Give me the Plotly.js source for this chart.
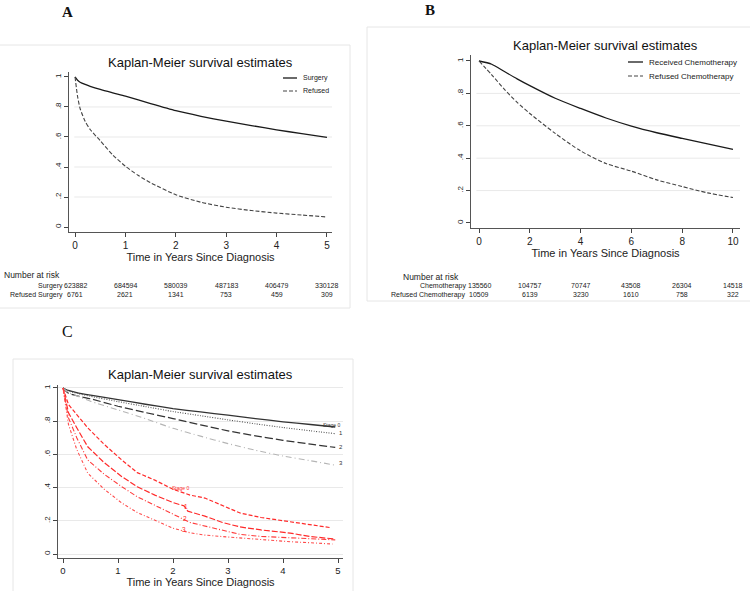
<!DOCTYPE html>
<html>
<head>
<meta charset="utf-8">
<script src="https://cdn.plot.ly/plotly-3.0.1.min.js"></script>
<style>html,body{margin:0;padding:0;background:#fff;}#chart{width:750px;height:591px;}</style>
</head>
<body>
<div id="chart"></div>
<script>
// ---------- Panel A data ----------
const tA_surgery = [0, 0.05, 0.1, 0.2, 0.3, 0.5, 0.75, 1, 1.5, 2, 2.5, 3, 3.5, 4, 4.5, 5];
const sA_surgery = [1, 0.978, 0.965, 0.95, 0.938, 0.917, 0.894, 0.872, 0.822, 0.775, 0.738, 0.705, 0.676, 0.648, 0.622, 0.597];
const tA_refused = [0, 0.05, 0.1, 0.2, 0.3, 0.5, 0.75, 1, 1.25, 1.5, 2, 2.5, 3, 3.5, 4, 4.5, 5];
const sA_refused = [1, 0.87, 0.79, 0.705, 0.65, 0.575, 0.48, 0.405, 0.345, 0.295, 0.215, 0.165, 0.132, 0.11, 0.093, 0.08, 0.067];
const riskTimesA = [0, 1, 2, 3, 4, 5];
const riskA_surgery = [623882, 684594, 580039, 487183, 406479, 330128];
const riskA_refused = [6761, 2621, 1341, 753, 459, 309];
const legendA = ['Surgery', 'Refused'];
const riskLabelsA = ['Surgery', 'Refused Surgery'];

// ---------- Panel B data ----------
const tB = [0, 0.5, 1, 1.5, 2, 3, 4, 5, 6, 7, 8, 9, 10];
const sB_chemo = [1, 0.98, 0.935, 0.89, 0.848, 0.77, 0.707, 0.648, 0.598, 0.557, 0.522, 0.488, 0.454];
const sB_refused = [1, 0.915, 0.825, 0.745, 0.676, 0.553, 0.445, 0.367, 0.32, 0.266, 0.225, 0.186, 0.157];
const riskTimesB = [0, 2, 4, 6, 8, 10];
const riskB_chemo = [135560, 104757, 70747, 43508, 26304, 14518];
const riskB_refused = [10509, 6139, 3230, 1610, 758, 322];
const legendB = ['Received Chemotherapy', 'Refused Chemotherapy'];
const riskLabelsB = ['Chemotherapy', 'Refused Chemotherapy'];

// ---------- Panel C data ----------
const tC_surg = [0, 0.1, 0.25, 0.5, 1, 1.5, 2, 2.5, 3, 3.5, 4, 4.5, 4.95];
const sC_surg0 = [1, 0.985, 0.972, 0.957, 0.93, 0.902, 0.876, 0.856, 0.836, 0.816, 0.796, 0.78, 0.765];
const sC_surg1 = [1, 0.982, 0.968, 0.95, 0.918, 0.888, 0.858, 0.833, 0.808, 0.784, 0.762, 0.742, 0.725];
const sC_surg2 = [1, 0.968, 0.953, 0.935, 0.89, 0.852, 0.816, 0.778, 0.742, 0.712, 0.685, 0.662, 0.642];
const sC_surg3 = [1, 0.972, 0.953, 0.92, 0.868, 0.815, 0.757, 0.71, 0.665, 0.625, 0.59, 0.562, 0.535];

const tC_ref0 = [0, 0.1, 0.25, 0.45, 0.75, 1.07, 1.35, 1.67, 2.0, 2.31, 2.58, 2.9, 3.22, 3.6, 4.13, 4.5, 4.88];
const sC_ref0 = [1, 0.9, 0.84, 0.76, 0.66, 0.566, 0.49, 0.445, 0.39, 0.355, 0.337, 0.29, 0.247, 0.22, 0.195, 0.175, 0.158];
const tC_ref1 = [0, 0.1, 0.25, 0.45, 0.75, 1.07, 1.35, 1.67, 2.0, 2.2, 2.27, 2.58, 2.9, 3.22, 3.6, 4.13, 4.5, 4.95];
const sC_ref1 = [1, 0.85, 0.76, 0.646, 0.55, 0.466, 0.405, 0.355, 0.31, 0.29, 0.258, 0.228, 0.19, 0.163, 0.145, 0.126, 0.105, 0.09];
const tC_ref2 = [0, 0.1, 0.25, 0.45, 0.75, 1.07, 1.35, 1.67, 2.0, 2.31, 2.58, 2.9, 3.22, 3.6, 4.13, 4.5, 4.95];
const sC_ref2 = [1, 0.82, 0.7, 0.566, 0.48, 0.405, 0.345, 0.295, 0.24, 0.19, 0.168, 0.14, 0.118, 0.106, 0.096, 0.09, 0.085];
const tC_ref3 = [0, 0.1, 0.25, 0.45, 0.75, 1.07, 1.35, 1.67, 2.0, 2.31, 2.58, 2.9, 3.22, 3.6, 4.13, 4.5, 4.9];
const sC_ref3 = [1, 0.78, 0.63, 0.487, 0.39, 0.307, 0.25, 0.205, 0.155, 0.128, 0.114, 0.105, 0.096, 0.088, 0.074, 0.068, 0.06];

const yTickVals = [0, 0.2, 0.4, 0.6, 0.8, 1];
const yTickText = ['0', '.2', '.4', '.6', '.8', '1'];
const xTicksA = [0, 1, 2, 3, 4, 5];
const xTicksB = [0, 2, 4, 6, 8, 10];
const xTicksC = [0, 1, 2, 3, 4, 5];
const gridVals = [0.2, 0.4, 0.6, 0.8];

const W = 750, H = 591;
const px = v => v / W;
const py = v => 1 - v / H;

const FONT = 'Liberation Sans, Arial, Helvetica, sans-serif';
const NARROW = 'Liberation Sans Narrow, Arial Narrow, Liberation Sans, Arial, sans-serif';
const SERIF = 'Liberation Serif, Times New Roman, serif';

const SOLID_A = {color: '#1a1a1a', width: 1.3};
const DASH_A = {color: '#444', width: 1.1, dash: '4px,2px'};

const traces = [
  {x: tA_surgery, y: sA_surgery, xaxis: 'x', yaxis: 'y', mode: 'lines', name: legendA[0], showlegend: false,
   line: Object.assign({shape: 'spline', smoothing: 0.6}, SOLID_A)},
  {x: tA_refused, y: sA_refused, xaxis: 'x', yaxis: 'y', mode: 'lines', name: legendA[1], showlegend: false,
   line: Object.assign({shape: 'spline', smoothing: 0.6}, DASH_A)},
  {x: tB, y: sB_chemo, xaxis: 'x2', yaxis: 'y2', mode: 'lines', name: legendB[0], showlegend: false,
   line: Object.assign({shape: 'spline', smoothing: 0.7}, SOLID_A)},
  {x: tB, y: sB_refused, xaxis: 'x2', yaxis: 'y2', mode: 'lines', name: legendB[1], showlegend: false,
   line: Object.assign({shape: 'spline', smoothing: 0.7}, DASH_A)},
  {x: tC_surg, y: sC_surg0, xaxis: 'x3', yaxis: 'y3', mode: 'lines', showlegend: false,
   line: {color: '#333', width: 1.3, shape: 'spline', smoothing: 0.5}},
  {x: tC_surg, y: sC_surg1, xaxis: 'x3', yaxis: 'y3', mode: 'lines', showlegend: false,
   line: {color: '#555', width: 1.1, dash: '1px,1.5px', shape: 'spline', smoothing: 0.5}},
  {x: tC_surg, y: sC_surg2, xaxis: 'x3', yaxis: 'y3', mode: 'lines', showlegend: false,
   line: {color: '#333', width: 1.2, dash: '8px,3px', shape: 'spline', smoothing: 0.5}},
  {x: tC_surg, y: sC_surg3, xaxis: 'x3', yaxis: 'y3', mode: 'lines', showlegend: false,
   line: {color: '#b5b5b5', width: 1.1, dash: '6px,3px,1px,3px', shape: 'spline', smoothing: 0.5}},
  {x: tC_ref0, y: sC_ref0, xaxis: 'x3', yaxis: 'y3', mode: 'lines', showlegend: false,
   line: {color: '#ff2a2a', width: 1.2, dash: '4px,2px'}},
  {x: tC_ref1, y: sC_ref1, xaxis: 'x3', yaxis: 'y3', mode: 'lines', showlegend: false,
   line: {color: '#ff2a2a', width: 1.2, dash: '6px,2px'}},
  {x: tC_ref2, y: sC_ref2, xaxis: 'x3', yaxis: 'y3', mode: 'lines', showlegend: false,
   line: {color: '#ff3b3b', width: 1.1, dash: '5px,2px,1px,2px'}},
  {x: tC_ref3, y: sC_ref3, xaxis: 'x3', yaxis: 'y3', mode: 'lines', showlegend: false,
   line: {color: '#ff4a4a', width: 1.1, dash: '1px,2px,3px,2px'}}
];

function xAxis(domain, range, ticks, anchor, tfs, standoff) {
  return {
    domain: domain, range: range, anchor: anchor, tickvals: ticks, ticks: 'outside', ticklen: 4,
    tickcolor: '#444', showline: true, linecolor: '#555', linewidth: 1, showgrid: false, zeroline: false,
    tickfont: {size: tfs, family: FONT, color: '#222'}, fixedrange: true,
    title: {text: 'Time in Years Since Diagnosis', font: {size: 11, family: FONT, color: '#222'}, standoff: standoff}
  };
}
function yAxis(domain, range, anchor, grid) {
  return {
    domain: domain, range: range, anchor: anchor, tickvals: yTickVals, ticktext: yTickText, tickangle: -90,
    ticks: 'outside', ticklen: 4, tickcolor: '#444', showline: true, linecolor: '#555', linewidth: 1,
    showgrid: grid, gridcolor: '#e9e9e9', zeroline: false, fixedrange: true,
    tickfont: {size: 8, family: FONT, color: '#222'}
  };
}

const shapes = [
  // graph region frames
  {type: 'rect', xref: 'paper', yref: 'paper', x0: px(-4), x1: px(350), y0: py(308), y1: py(45), line: {color: '#e6e6e6', width: 1}},
  {type: 'rect', xref: 'paper', yref: 'paper', x0: px(367), x1: px(760), y0: py(301), y1: py(27), line: {color: '#e6e6e6', width: 1}},
  {type: 'rect', xref: 'paper', yref: 'paper', x0: px(13), x1: px(353), y0: py(600), y1: py(359), line: {color: '#e6e6e6', width: 1}}
];
gridVals.forEach(v => {
  shapes.push({type: 'line', xref: 'x domain', yref: 'y', x0: 0.02, x1: 1, y0: v, y1: v, layer: 'below', line: {color: '#e9e9e9', width: 1}});
  shapes.push({type: 'line', xref: 'x2 domain', yref: 'y2', x0: 0.02, x1: 1, y0: v, y1: v, layer: 'below', line: {color: '#e9e9e9', width: 1}});
});

const annotations = [];
function ann(o) { annotations.push(Object.assign({showarrow: false, xref: 'paper', yref: 'paper', borderpad: 0}, o)); }

// Legend keys (drawn as small line samples + labels)
function legendKey(x0, x1, y, style, label, size) {
  shapes.push({type: 'line', xref: 'paper', yref: 'paper', x0: px(x0), x1: px(x1), y0: py(y), y1: py(y),
    line: {color: style.color, width: style.width, dash: style.dash || 'solid'}});
  ann({x: px(x1 + 5), y: py(y), text: label, font: {size: size, family: FONT, color: '#222'}, xanchor: 'left', yanchor: 'middle'});
}
legendKey(283, 297, 78, SOLID_A, legendA[0], 7);
legendKey(283, 297, 91, DASH_A, legendA[1], 7);
legendKey(628, 643, 62, SOLID_A, legendB[0], 8);
legendKey(628, 643, 76, DASH_A, legendB[1], 8);

// Panel letters
ann({x: px(67), y: py(12), text: '<b>A</b>', font: {size: 15, family: SERIF, color: '#111'}, xanchor: 'center', yanchor: 'middle'});
ann({x: px(430), y: py(10), text: '<b>B</b>', font: {size: 15, family: SERIF, color: '#111'}, xanchor: 'center', yanchor: 'middle'});
ann({x: px(67), y: py(331), text: 'C', font: {size: 16, family: SERIF, color: '#111'}, xanchor: 'center', yanchor: 'middle'});

// Titles
const TITLE = 'Kaplan-Meier survival estimates';
ann({x: px(200), y: py(63), text: TITLE, font: {size: 13, family: FONT, color: '#111'}, xanchor: 'center', yanchor: 'middle'});
ann({x: px(605), y: py(46), text: TITLE, font: {size: 13, family: FONT, color: '#111'}, xanchor: 'center', yanchor: 'middle'});
ann({x: px(200), y: py(374), text: TITLE, font: {size: 13, family: FONT, color: '#111'}, xanchor: 'center', yanchor: 'middle'});

// Risk tables
const RF = {size: 7, family: NARROW, color: '#222'};
const ROW1 = 285.5, ROW2 = 294.5;
ann({x: px(3), y: py(275), text: 'Number at risk', font: {size: 8.5, family: FONT, color: '#222'}, xanchor: 'left', yanchor: 'middle'});
ann({x: px(64), y: py(ROW1), text: riskLabelsA[0], font: RF, xanchor: 'right', yanchor: 'middle'});
ann({x: px(64), y: py(ROW2), text: riskLabelsA[1], font: RF, xanchor: 'right', yanchor: 'middle'});
riskTimesA.forEach((t, i) => {
  annotations.push({xref: 'x', yref: 'paper', x: t, y: py(ROW1), text: String(riskA_surgery[i]), showarrow: false, borderpad: 0,
    font: RF, xanchor: 'center', yanchor: 'middle'});
  annotations.push({xref: 'x', yref: 'paper', x: t, y: py(ROW2), text: String(riskA_refused[i]), showarrow: false, borderpad: 0,
    font: RF, xanchor: 'center', yanchor: 'middle'});
});
ann({x: px(402), y: py(277), text: 'Number at risk', font: {size: 8.5, family: FONT, color: '#222'}, xanchor: 'left', yanchor: 'middle'});
ann({x: px(467), y: py(ROW1), text: riskLabelsB[0], font: RF, xanchor: 'right', yanchor: 'middle'});
ann({x: px(466), y: py(ROW2), text: riskLabelsB[1], font: RF, xanchor: 'right', yanchor: 'middle'});
riskTimesB.forEach((t, i) => {
  annotations.push({xref: 'x2', yref: 'paper', x: t, y: py(ROW1), text: String(riskB_chemo[i]), showarrow: false, borderpad: 0,
    font: RF, xanchor: 'center', yanchor: 'middle'});
  annotations.push({xref: 'x2', yref: 'paper', x: t, y: py(ROW2), text: String(riskB_refused[i]), showarrow: false, borderpad: 0,
    font: RF, xanchor: 'center', yanchor: 'middle'});
});

// Panel C labels
function annC(x, y, text, size, color, xanchor) {
  annotations.push({xref: 'x3', yref: 'y3', x: x, y: y, text: text, showarrow: false, borderpad: 0,
    font: {size: size, family: FONT, color: color}, xanchor: xanchor || 'center', yanchor: 'middle'});
}
annC(5.1, 0.848, 'Surgery', 11.5, '#111', 'right');
annC(4.88, 0.775, 'Stage 0', 5, '#333');
annC(5.06, 0.727, '1', 6, '#333');
annC(5.06, 0.647, '2', 6, '#333');
annC(5.06, 0.546, '3', 6, '#333');
annC(5.13, 0.305, 'Refused Surgery', 11.5, '#ff2a2a', 'right');
annC(2.13, 0.40, 'Stage 0', 5, '#ff2a2a');
annC(2.23, 0.285, '1', 6.5, '#ff2a2a');
annC(2.22, 0.215, '2', 6.5, '#ff2a2a');
annC(2.2, 0.145, '3', 6.5, '#ff2a2a');

const layout = {
  width: W, height: H, margin: {l: 0, r: 0, t: 0, b: 0},
  paper_bgcolor: '#ffffff', plot_bgcolor: 'rgba(0,0,0,0)',
  font: {family: FONT, color: '#222'},
  showlegend: false,
  xaxis: xAxis([px(69), px(332)], [-0.12, 5.1], xTicksA, 'y', 10, 3),
  yaxis: yAxis([py(232), py(72)], [-0.033, 1.033], 'x', false),
  xaxis2: xAxis([px(471), px(740)], [-0.315, 10.276], xTicksB, 'y2', 10, 3),
  yaxis2: yAxis([py(228), py(55)], [-0.031, 1.037], 'x2', false),
  xaxis3: xAxis([px(58), px(343)], [-0.091, 5.091], xTicksC, 'y3', 9.5, 2),
  yaxis3: yAxis([py(558), py(385)], [-0.024, 1.018], 'x3', true),
  shapes: shapes,
  annotations: annotations
};

Plotly.newPlot('chart', traces, layout, {displayModeBar: false, staticPlot: true});
</script>
</body>
</html>
